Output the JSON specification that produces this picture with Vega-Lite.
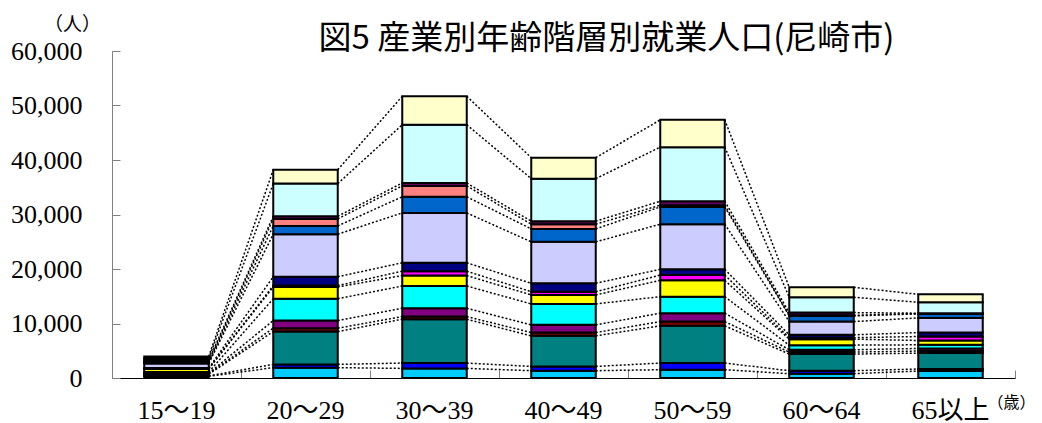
{
  "$schema": "https://vega.github.io/schema/vega-lite/v6.json",
  "width": 903,
  "height": 327,
  "autosize": {"type": "none"},
  "padding": {"left": 112, "top": 51, "right": 27, "bottom": 45},
  "background": "white",
  "config": {
    "view": {"stroke": null},
    "font": "Liberation Serif, Noto Sans CJK JP"
  },
  "title": {
    "text": "図5 産業別年齢階層別就業人口(尼崎市)",
    "font": "Noto Sans CJK JP",
    "fontSize": 33,
    "fontWeight": "normal",
    "color": "#000000",
    "anchor": "middle",
    "baseline": "middle",
    "dx": 43,
    "dy": 61,
    "offset": 4
  },
  "data": {
    "values": [
      {"age": "15～19", "s": "s01", "n": 300},
      {"age": "15～19", "s": "s02", "n": 100},
      {"age": "15～19", "s": "s03", "n": 300},
      {"age": "15～19", "s": "s04", "n": 100},
      {"age": "15～19", "s": "s05", "n": 100},
      {"age": "15～19", "s": "s06", "n": 200},
      {"age": "15～19", "s": "s07", "n": 550},
      {"age": "15～19", "s": "s08", "n": 70},
      {"age": "15～19", "s": "s09", "n": 110},
      {"age": "15～19", "s": "s10", "n": 840},
      {"age": "15～19", "s": "s11", "n": 180},
      {"age": "15～19", "s": "s12", "n": 150},
      {"age": "15～19", "s": "s13", "n": 250},
      {"age": "15～19", "s": "s14", "n": 350},
      {"age": "15～19", "s": "s15", "n": 350},
      {"age": "20～29", "s": "s01", "n": 1900},
      {"age": "20～29", "s": "s02", "n": 600},
      {"age": "20～29", "s": "s03", "n": 6020},
      {"age": "20～29", "s": "s04", "n": 620},
      {"age": "20～29", "s": "s05", "n": 1400},
      {"age": "20～29", "s": "s06", "n": 4010},
      {"age": "20～29", "s": "s07", "n": 2150},
      {"age": "20～29", "s": "s08", "n": 250},
      {"age": "20～29", "s": "s09", "n": 1630},
      {"age": "20～29", "s": "s10", "n": 7810},
      {"age": "20～29", "s": "s11", "n": 1520},
      {"age": "20～29", "s": "s12", "n": 1280},
      {"age": "20～29", "s": "s13", "n": 490},
      {"age": "20～29", "s": "s14", "n": 5990},
      {"age": "20～29", "s": "s15", "n": 2530},
      {"age": "30～39", "s": "s01", "n": 1760},
      {"age": "30～39", "s": "s02", "n": 980},
      {"age": "30～39", "s": "s03", "n": 8050},
      {"age": "30～39", "s": "s04", "n": 480},
      {"age": "30～39", "s": "s05", "n": 1530},
      {"age": "30～39", "s": "s06", "n": 4080},
      {"age": "30～39", "s": "s07", "n": 1920},
      {"age": "30～39", "s": "s08", "n": 800},
      {"age": "30～39", "s": "s09", "n": 1540},
      {"age": "30～39", "s": "s10", "n": 9150},
      {"age": "30～39", "s": "s11", "n": 2960},
      {"age": "30～39", "s": "s12", "n": 2000},
      {"age": "30～39", "s": "s13", "n": 530},
      {"age": "30～39", "s": "s14", "n": 10680},
      {"age": "30～39", "s": "s15", "n": 5240},
      {"age": "40～49", "s": "s01", "n": 1340},
      {"age": "40～49", "s": "s02", "n": 780},
      {"age": "40～49", "s": "s03", "n": 5620},
      {"age": "40～49", "s": "s04", "n": 600},
      {"age": "40～49", "s": "s05", "n": 1410},
      {"age": "40～49", "s": "s06", "n": 3840},
      {"age": "40～49", "s": "s07", "n": 1650},
      {"age": "40～49", "s": "s08", "n": 600},
      {"age": "40～49", "s": "s09", "n": 1540},
      {"age": "40～49", "s": "s10", "n": 7600},
      {"age": "40～49", "s": "s11", "n": 2380},
      {"age": "40～49", "s": "s12", "n": 860},
      {"age": "40～49", "s": "s13", "n": 550},
      {"age": "40～49", "s": "s14", "n": 7810},
      {"age": "40～49", "s": "s15", "n": 3840},
      {"age": "50～59", "s": "s01", "n": 1520},
      {"age": "50～59", "s": "s02", "n": 1220},
      {"age": "50～59", "s": "s03", "n": 6830},
      {"age": "50～59", "s": "s04", "n": 780},
      {"age": "50～59", "s": "s05", "n": 1540},
      {"age": "50～59", "s": "s06", "n": 3030},
      {"age": "50～59", "s": "s07", "n": 3000},
      {"age": "50～59", "s": "s08", "n": 970},
      {"age": "50～59", "s": "s09", "n": 1050},
      {"age": "50～59", "s": "s10", "n": 8280},
      {"age": "50～59", "s": "s11", "n": 3170},
      {"age": "50～59", "s": "s12", "n": 310},
      {"age": "50～59", "s": "s13", "n": 730},
      {"age": "50～59", "s": "s14", "n": 9930},
      {"age": "50～59", "s": "s15", "n": 5010},
      {"age": "60～64", "s": "s01", "n": 790},
      {"age": "60～64", "s": "s02", "n": 550},
      {"age": "60～64", "s": "s03", "n": 3050},
      {"age": "60～64", "s": "s04", "n": 360},
      {"age": "60～64", "s": "s05", "n": 430},
      {"age": "60～64", "s": "s06", "n": 850},
      {"age": "60～64", "s": "s07", "n": 1100},
      {"age": "60～64", "s": "s08", "n": 270},
      {"age": "60～64", "s": "s09", "n": 520},
      {"age": "60～64", "s": "s10", "n": 2430},
      {"age": "60～64", "s": "s11", "n": 1040},
      {"age": "60～64", "s": "s12", "n": 110},
      {"age": "60～64", "s": "s13", "n": 500},
      {"age": "60～64", "s": "s14", "n": 2810},
      {"age": "60～64", "s": "s15", "n": 1830},
      {"age": "65以上", "s": "s01", "n": 1280},
      {"age": "65以上", "s": "s02", "n": 370},
      {"age": "65以上", "s": "s03", "n": 2920},
      {"age": "65以上", "s": "s04", "n": 380},
      {"age": "65以上", "s": "s05", "n": 470},
      {"age": "65以上", "s": "s06", "n": 670},
      {"age": "65以上", "s": "s07", "n": 790},
      {"age": "65以上", "s": "s08", "n": 730},
      {"age": "65以上", "s": "s09", "n": 730},
      {"age": "65以上", "s": "s10", "n": 2690},
      {"age": "65以上", "s": "s11", "n": 730},
      {"age": "65以上", "s": "s12", "n": 60},
      {"age": "65以上", "s": "s13", "n": 70},
      {"age": "65以上", "s": "s14", "n": 2010},
      {"age": "65以上", "s": "s15", "n": 1450}
    ]
  },
  "encoding": {
    "x": {
      "field": "age",
      "type": "nominal",
      "sort": "ascending",
      "scale": {"paddingInner": 0.5, "paddingOuter": 0.25},
      "axis": {
        "title": "（歳）",
        "titleFont": "Noto Sans CJK JP",
        "titleFontSize": 16,
        "titleFontWeight": "normal",
        "titleColor": "#000000",
        "titleAngle": 0,
        "titleAlign": "center",
        "titleBaseline": "middle",
        "titleX": 899,
        "titleY": 24,
        "labelAngle": 0,
        "labelFont": "Liberation Serif, Noto Sans CJK JP",
        "labelFontSize": 26,
        "labelColor": "#000000",
        "labelPadding": 27,
        "bandPosition": 1.5,
        "tickSize": -8,
        "tickColor": "#808080",
        "tickWidth": 1,
        "domainColor": "#000000",
        "domainWidth": 1,
        "grid": false
      }
    },
    "y": {
      "type": "quantitative",
      "scale": {"domain": [0, 60000], "nice": false},
      "axis": {
        "title": "（人）",
        "titleFont": "Noto Sans CJK JP",
        "titleFontSize": 19,
        "titleFontWeight": "normal",
        "titleColor": "#000000",
        "titleAngle": 0,
        "titleAlign": "center",
        "titleBaseline": "middle",
        "titleX": -40,
        "titleY": -27,
        "values": [0, 10000, 20000, 30000, 40000, 50000, 60000],
        "format": ",.0f",
        "labelFont": "Liberation Serif",
        "labelFontSize": 26,
        "labelColor": "#000000",
        "labelPadding": 38,
        "tickSize": -8,
        "tickColor": "#808080",
        "domainColor": "#808080",
        "grid": false
      }
    }
  },
  "layer": [
    {
      "transform": [
        {
          "window": [{"op": "sum", "field": "n", "as": "top"}],
          "groupby": ["age"],
          "sort": [{"field": "s", "order": "ascending"}],
          "frame": [null, 0]
        },
        {
          "window": [
            {"op": "lead", "field": "top", "as": "nextTop"},
            {"op": "lead", "field": "age", "as": "nextAge"}
          ],
          "groupby": ["s"],
          "sort": [{"field": "age", "order": "ascending"}]
        },
        {"filter": "datum.nextAge != null"}
      ],
      "mark": {"type": "rule", "color": "#000000", "strokeWidth": 1.5, "strokeDash": [2, 2]},
      "encoding": {
        "x": {"field": "age", "type": "nominal", "bandPosition": 1},
        "x2": {"field": "nextAge", "bandPosition": 0},
        "y": {"field": "top", "type": "quantitative"},
        "y2": {"field": "nextTop"}
      }
    },
    {
      "mark": {"type": "bar", "stroke": "#000000", "strokeWidth": 2},
      "encoding": {
        "y": {"field": "n", "type": "quantitative", "aggregate": "sum", "stack": "zero"},
        "color": {
          "field": "s",
          "type": "nominal",
          "legend": null,
          "scale": {
            "domain": ["s01", "s02", "s03", "s04", "s05", "s06", "s07", "s08", "s09", "s10", "s11", "s12", "s13", "s14", "s15"],
            "range": ["#00CCFF", "#0000FF", "#008080", "#800000", "#800080", "#00FFFF", "#FFFF00", "#FF00FF", "#000080", "#CCCCFF", "#0066CC", "#FF8080", "#660066", "#CCFFFF", "#FFFFCC"]
          }
        },
        "order": {"field": "s", "sort": "ascending"}
      }
    }
  ]
}
